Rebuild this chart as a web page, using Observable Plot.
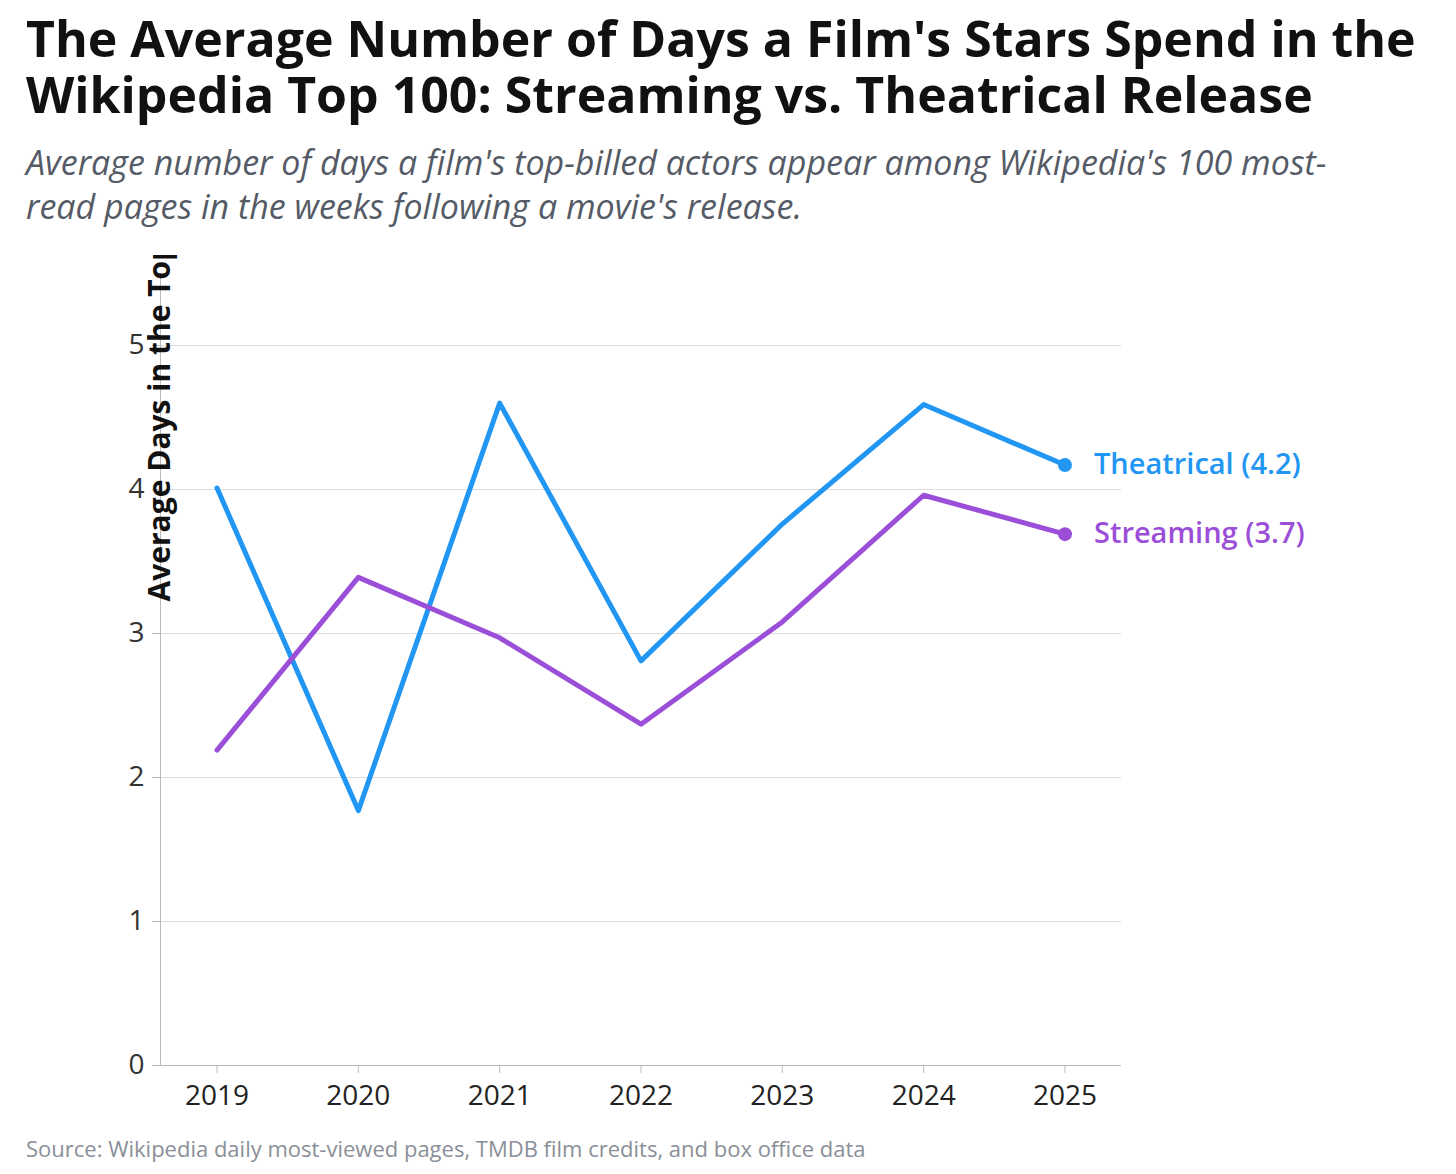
<!DOCTYPE html>
<html><head><meta charset="utf-8">
<script src="https://cdn.jsdelivr.net/npm/d3@7"></script>
<script src="https://cdn.jsdelivr.net/npm/@observablehq/plot@0.6"></script>
<style>
body{margin:0;background:#fff;font-family:"Open Sans",sans-serif;}
#t{position:absolute;left:26px;top:10px;font-size:50px;font-weight:700;line-height:56px;color:#111;width:1430px;}
#s{position:absolute;left:26px;top:140px;font-size:34px;font-style:italic;line-height:44px;color:#555b66;width:1345px;}
#c{position:absolute;left:0;top:255px;}
#src{position:absolute;left:26px;top:1133px;font-size:22px;color:#8a8f98;}
</style></head><body>
<div id="t">The Average Number of Days a Film's Stars Spend in the Wikipedia Top 100: Streaming vs. Theatrical Release</div>
<div id="s">Average number of days a film's top-billed actors appear among Wikipedia's 100 most-read pages in the weeks following a movie's release.</div>
<div id="c"></div>
<div id="src">Source: Wikipedia daily most-viewed pages, TMDB film credits, and box office data</div>
<script>
const years=[2019,2020,2021,2022,2023,2024,2025];
const theatrical=[4.01,1.77,4.60,2.81,3.76,4.59,4.17];
const streaming=[2.19,3.39,2.97,2.37,3.08,3.96,3.69];
const yTicks=[0,1,2,3,4,5];
const blue="#2196F3", purple="#9B4FD8";
const T=years.map((y,i)=>({year:y,v:theatrical[i]}));
const S=years.map((y,i)=>({year:y,v:streaming[i]}));
const last=[{year:2025,v:theatrical[6],c:blue,l:"Theatrical (4.2)"},{year:2025,v:streaming[6],c:purple,l:"Streaming (3.7)"}];
const p=Plot.plot({
 width:1456,height:865,marginLeft:160,marginRight:335,marginTop:18,marginBottom:55,
 style:{fontFamily:"Open Sans",fontSize:"28px",color:"#333"},
 x:{domain:[2018.6,2025.4],label:null},
 y:{domain:[0,5.5],label:null},
 marks:[
  Plot.gridY(yTicks.slice(1),{stroke:"#ddd",strokeOpacity:1}),
  Plot.ruleX([2018.6],{stroke:"#bbb"}),
  Plot.ruleY([0],{stroke:"#bbb"}),
  Plot.axisX({ticks:years,tickFormat:d=>String(d),stroke:"#bbb",label:null,fontSize:28,tickSize:8,tickPadding:12,fill:"#222"}),
  Plot.axisY({ticks:yTicks,tickFormat:d=>String(d),stroke:"#bbb",label:null,fontSize:28,tickSize:8,tickPadding:8,fill:"#333"}),
  Plot.line(T,{x:"year",y:"v",stroke:blue,strokeWidth:5}),
  Plot.line(S,{x:"year",y:"v",stroke:purple,strokeWidth:5}),
  Plot.dot(last,{x:"year",y:"v",fill:"c",r:7}),
  Plot.text(last,{x:"year",y:"v",text:"l",fill:"c",dx:29,textAnchor:"start",fontSize:29,fontWeight:600}),
  Plot.text(["Average Days in the Top 100"],{frameAnchor:"left",rotate:-90,dy:-68,fontSize:30,fontWeight:700,fill:"#111"})
 ]});
document.getElementById("c").appendChild(p);
</script></body></html>
